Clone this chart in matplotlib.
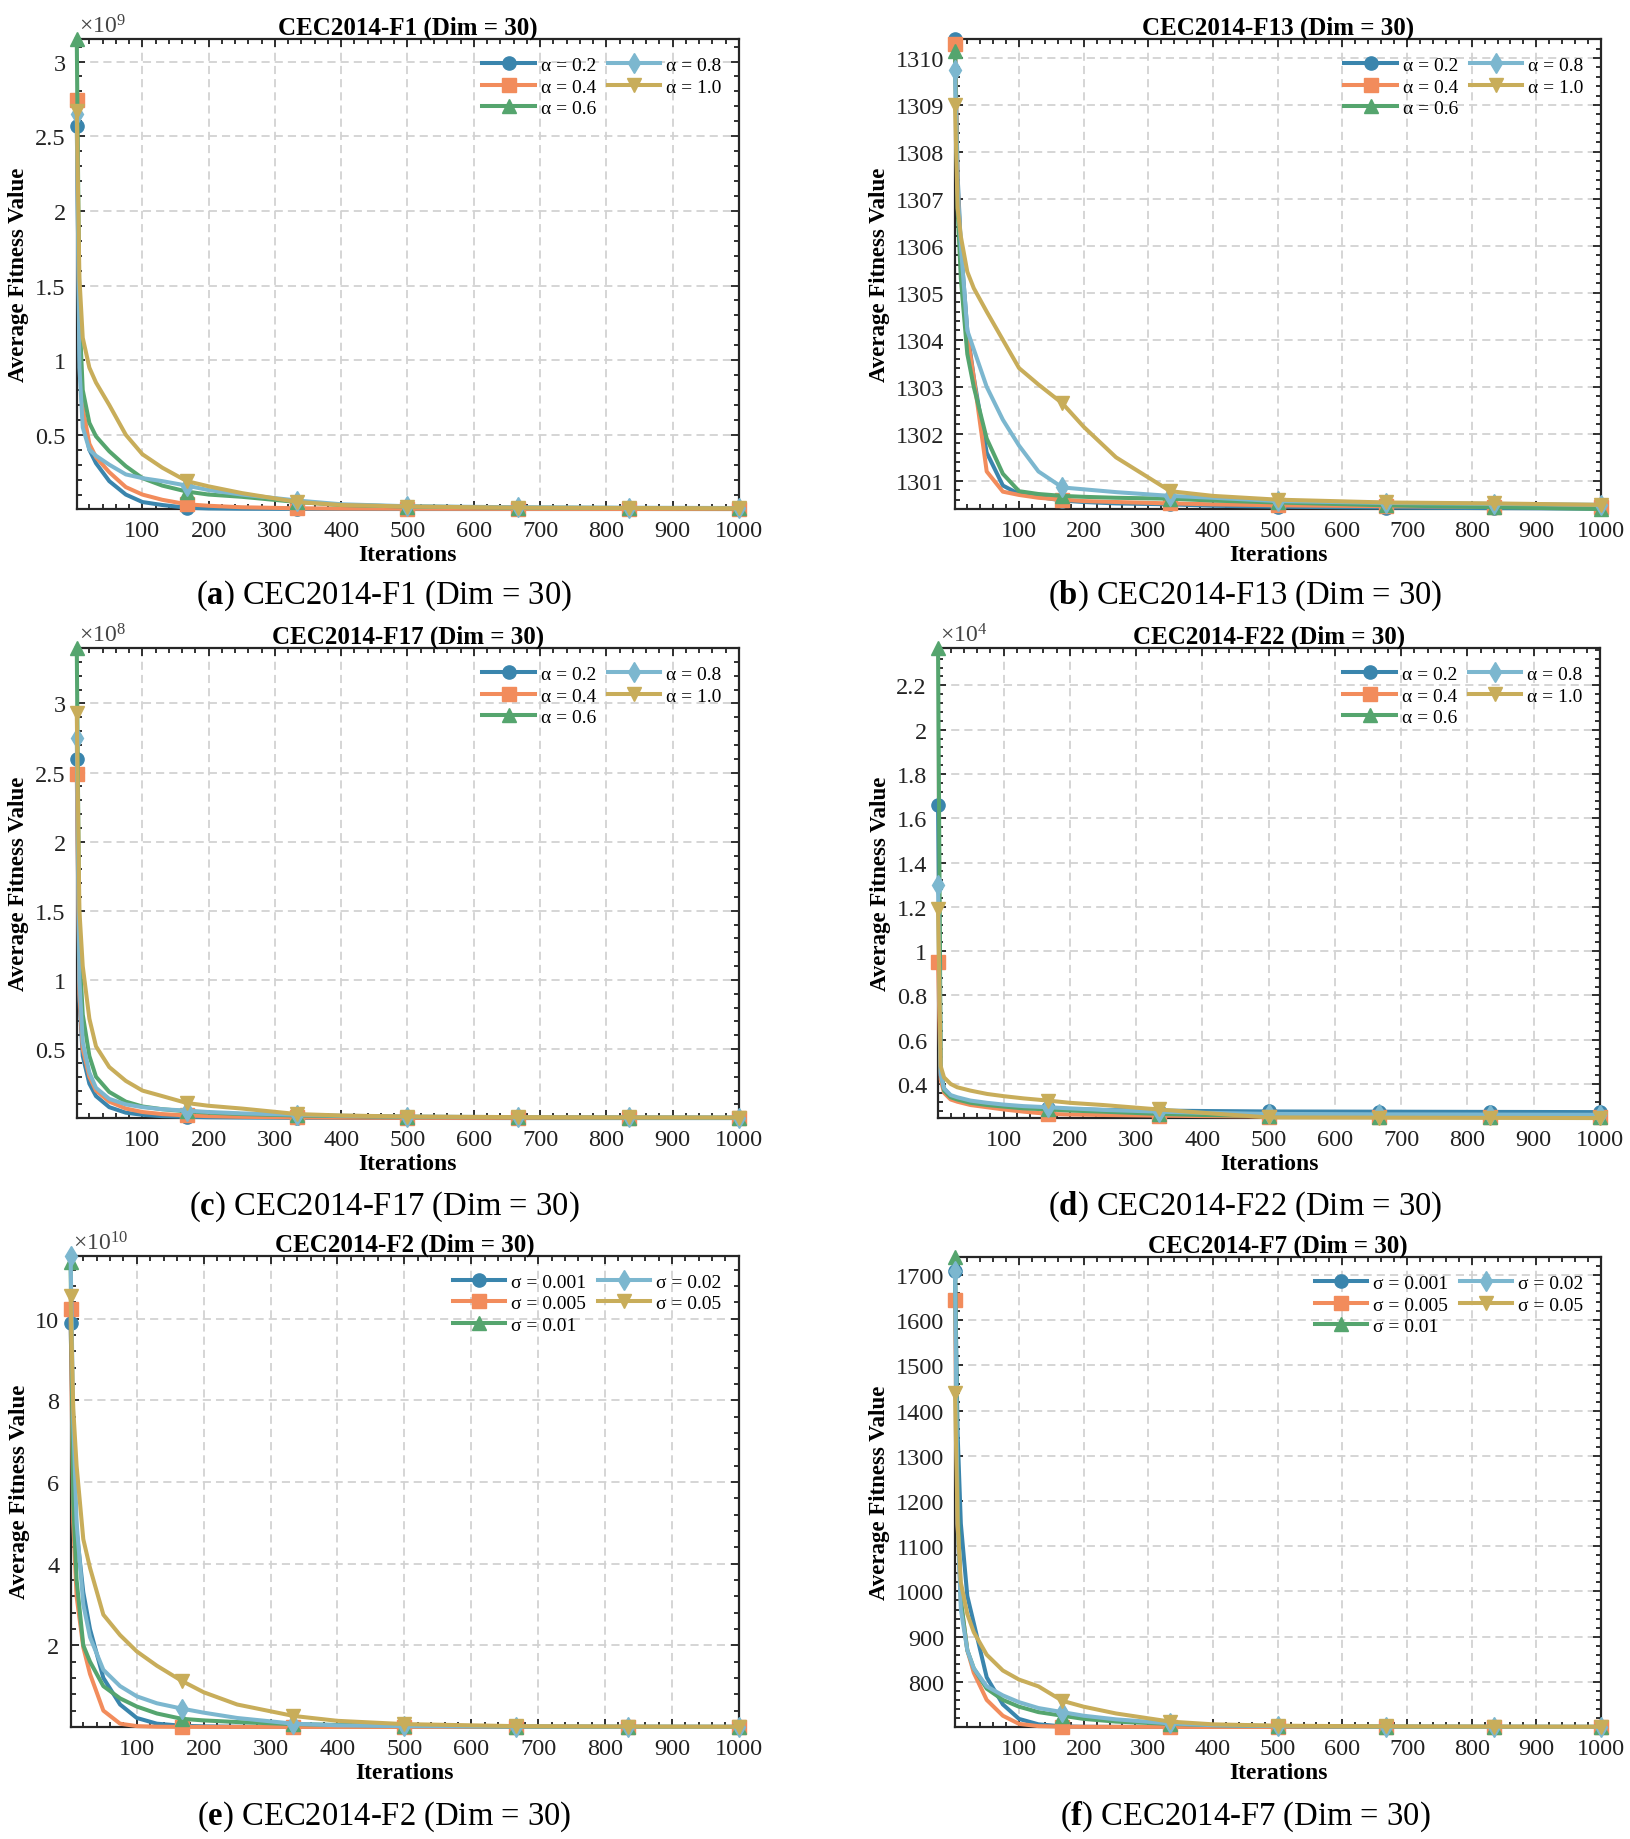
import numpy as np
import matplotlib.pyplot as plt
from matplotlib.ticker import AutoMinorLocator, MultipleLocator, FuncFormatter

plt.rcParams['font.family'] = ['Liberation Serif', 'DejaVu Serif']
plt.rcParams['mathtext.fontset'] = 'custom'
plt.rcParams['mathtext.rm'] = 'Liberation Serif'
plt.rcParams['mathtext.bf'] = 'Liberation Serif:bold'
plt.rcParams['mathtext.it'] = 'Liberation Serif:italic'

iters = [1, 5, 10, 20, 30, 50, 75, 100, 130, 167, 200, 250, 334, 400, 500, 667, 834, 1000]
mark_idx = [0, 9, 12, 14, 15, 16, 17]  # 1, 167, 334, 500, 667, 834, 1000

alpha_labels = ['α = 0.2', 'α = 0.4', 'α = 0.6', 'α = 0.8', 'α = 1.0']
sigma_labels = ['σ = 0.001', 'σ = 0.005', 'σ = 0.01', 'σ = 0.02', 'σ = 0.05']

colores = ['#3a85ad', '#f28c5c', '#55a56e', '#7cb7cf', '#c8ad5a']
marcadores = ['o', 's', '^', 'd', 'v']

# ---- CEC2014-F1 (x1e9) ----
f1_a02 = [2.57, 1.05, 0.62, 0.40, 0.31, 0.19, 0.10, 0.05, 0.03, 0.012, 0.007, 0.005, 0.004, 0.0035, 0.003, 0.003, 0.003, 0.003]
f1_a04 = [2.74, 1.15, 0.68, 0.44, 0.35, 0.25, 0.15, 0.10, 0.065, 0.035, 0.025, 0.015, 0.008, 0.006, 0.005, 0.004, 0.0035, 0.003]
f1_a06 = [3.15, 1.30, 0.80, 0.58, 0.49, 0.39, 0.29, 0.21, 0.16, 0.12, 0.10, 0.085, 0.05, 0.03, 0.02, 0.012, 0.01, 0.008]
f1_a08 = [2.65, 0.95, 0.55, 0.40, 0.36, 0.30, 0.235, 0.21, 0.19, 0.16, 0.13, 0.10, 0.06, 0.035, 0.022, 0.015, 0.012, 0.01]
f1_a10 = [2.67, 1.55, 1.15, 0.95, 0.85, 0.70, 0.50, 0.37, 0.28, 0.19, 0.155, 0.11, 0.05, 0.03, 0.02, 0.012, 0.01, 0.008]

# ---- CEC2014-F13 ----
f13_a02 = [1310.4, 1307.5, 1306.0, 1304.2, 1303.2, 1301.6, 1300.9, 1300.72, 1300.66, 1300.58, 1300.55, 1300.52, 1300.5, 1300.47, 1300.45, 1300.43, 1300.42, 1300.41]
f13_a04 = [1310.3, 1307.3, 1305.8, 1304.1, 1303.2, 1301.2, 1300.77, 1300.7, 1300.64, 1300.6, 1300.57, 1300.55, 1300.52, 1300.5, 1300.48, 1300.46, 1300.45, 1300.44]
f13_a06 = [1310.15, 1306.8, 1305.3, 1303.7, 1303.0, 1301.9, 1301.15, 1300.78, 1300.72, 1300.68, 1300.66, 1300.64, 1300.62, 1300.58, 1300.54, 1300.48, 1300.44, 1300.4]
f13_a08 = [1309.75, 1307.2, 1306.0, 1304.2, 1303.8, 1303.0, 1302.3, 1301.75, 1301.2, 1300.86, 1300.82, 1300.76, 1300.68, 1300.64, 1300.57, 1300.53, 1300.51, 1300.49]
f13_a10 = [1309.0, 1306.8, 1306.2, 1305.45, 1305.1, 1304.6, 1304.0, 1303.4, 1303.05, 1302.65, 1302.15, 1301.5, 1300.78, 1300.68, 1300.6, 1300.54, 1300.52, 1300.49]

# ---- CEC2014-F17 (x1e8) ----
f17_a02 = [2.6, 0.85, 0.45, 0.25, 0.16, 0.08, 0.04, 0.025, 0.015, 0.01, 0.007, 0.005, 0.003, 0.002, 0.002, 0.001, 0.001, 0.001]
f17_a04 = [2.49, 0.9, 0.5, 0.3, 0.2, 0.12, 0.07, 0.045, 0.03, 0.02, 0.015, 0.01, 0.006, 0.004, 0.003, 0.002, 0.002, 0.002]
f17_a06 = [3.40, 1.2, 0.75, 0.45, 0.30, 0.19, 0.12, 0.085, 0.065, 0.05, 0.04, 0.03, 0.02, 0.015, 0.01, 0.007, 0.005, 0.004]
f17_a08 = [2.75, 1.0, 0.55, 0.33, 0.22, 0.14, 0.10, 0.08, 0.065, 0.055, 0.045, 0.035, 0.025, 0.018, 0.012, 0.008, 0.006, 0.005]
f17_a10 = [2.93, 1.5, 1.1, 0.72, 0.52, 0.37, 0.27, 0.2, 0.16, 0.11, 0.09, 0.07, 0.03, 0.02, 0.012, 0.008, 0.006, 0.005]

# ---- CEC2014-F22 (x1e4) ----
f22_a02 = [1.66, 0.45, 0.38, 0.345, 0.335, 0.32, 0.31, 0.30, 0.295, 0.29, 0.287, 0.283, 0.28, 0.278, 0.276, 0.275, 0.274, 0.273]
f22_a04 = [0.951, 0.42, 0.36, 0.33, 0.32, 0.305, 0.295, 0.285, 0.275, 0.265, 0.262, 0.26, 0.257, 0.255, 0.253, 0.252, 0.251, 0.25]
f22_a06 = [2.368, 0.46, 0.37, 0.34, 0.33, 0.315, 0.305, 0.298, 0.29, 0.285, 0.28, 0.275, 0.265, 0.26, 0.256, 0.253, 0.251, 0.25]
f22_a08 = [1.30, 0.44, 0.38, 0.35, 0.34, 0.325, 0.315, 0.307, 0.30, 0.295, 0.29, 0.283, 0.275, 0.27, 0.265, 0.263, 0.262, 0.261]
f22_a10 = [1.19, 0.48, 0.43, 0.40, 0.385, 0.37, 0.355, 0.345, 0.335, 0.325, 0.315, 0.305, 0.285, 0.27, 0.249, 0.248, 0.247, 0.246]

# ---- CEC2014-F2 (x1e10) ----
f2_s001 = [9.9, 6.5, 4.8, 3.3, 2.4, 1.2, 0.55, 0.22, 0.08, 0.03, 0.015, 0.006, 0.002, 0.001, 0.0005, 0.0003, 0.0002, 0.0001]
f2_s005 = [10.25, 5.0, 3.2, 1.95, 1.3, 0.4, 0.08, 0.02, 0.006, 0.002, 0.001, 0.0006, 0.0003, 0.0002, 0.0001, 0.0001, 0.0001, 0.0001]
f2_s01 = [11.4, 5.5, 3.6, 2.0, 1.6, 1.0, 0.7, 0.5, 0.33, 0.2, 0.16, 0.12, 0.07, 0.05, 0.03, 0.01, 0.005, 0.003]
f2_s02 = [11.55, 7.5, 5.0, 3.0, 2.2, 1.4, 1.0, 0.75, 0.58, 0.45, 0.35, 0.22, 0.08, 0.04, 0.02, 0.01, 0.005, 0.003]
f2_s05 = [10.56, 7.8, 6.4, 4.6, 3.9, 2.75, 2.25, 1.85, 1.5, 1.13, 0.85, 0.55, 0.27, 0.15, 0.07, 0.02, 0.01, 0.005]

# ---- CEC2014-F7 ----
f7_s001 = [1710, 1350, 1150, 990, 930, 810, 750, 718, 706, 701.5, 700.6, 700.4, 700.3, 700.2, 700.2, 700.2, 700.2, 700.2]
f7_s005 = [1645, 1150, 980, 870, 820, 760, 725, 707, 702, 700.7, 700.5, 700.4, 700.3, 700.2, 700.2, 700.2, 700.2, 700.2]
f7_s01 = [1740, 1200, 980, 870, 830, 785, 760, 745, 733, 725, 718, 712, 707, 704, 702, 701, 700.6, 700.4]
f7_s02 = [1710, 1150, 960, 870, 830, 790, 770, 755, 742, 733, 725, 717, 708, 704, 702, 701, 700.6, 700.4]
f7_s05 = [1440, 1150, 1020, 950, 910, 860, 825, 805, 790, 758, 745, 730, 712, 706, 703, 701.5, 701, 700.6]

paneles = [
    # rect, titulo, leyenda, series, escala (exponente), paso y, letra, pos. caption
    ([0.0471, 0.7228, 0.4062, 0.2554], 'CEC2014-F1', alpha_labels,
     [f1_a02, f1_a04, f1_a06, f1_a08, f1_a10], 9, 0.5, 'a', (0.2356, 0.676)),
    ([0.5859, 0.7228, 0.3963, 0.2554], 'CEC2014-F13', alpha_labels,
     [f13_a02, f13_a04, f13_a06, f13_a08, f13_a10], 0, 1, 'b', (0.764, 0.676)),
    ([0.0471, 0.3918, 0.4062, 0.2554], 'CEC2014-F17', alpha_labels,
     [f17_a02, f17_a04, f17_a06, f17_a08, f17_a10], 8, 0.5, 'c', (0.2356, 0.344)),
    ([0.5755, 0.3918, 0.4061, 0.2554], 'CEC2014-F22', alpha_labels,
     [f22_a02, f22_a04, f22_a06, f22_a08, f22_a10], 4, 0.2, 'd', (0.764, 0.344)),
    ([0.0433, 0.0609, 0.4100, 0.2562], 'CEC2014-F2', sigma_labels,
     [f2_s001, f2_s005, f2_s01, f2_s02, f2_s05], 10, 2, 'e', (0.2356, 0.0125)),
    ([0.5859, 0.0609, 0.3963, 0.2554], 'CEC2014-F7', sigma_labels,
     [f7_s001, f7_s005, f7_s01, f7_s02, f7_s05], 0, 100, 'f', (0.764, 0.0125)),
]

fig = plt.figure(figsize=(16.3, 18.4), dpi=100)

for rect, titulo, etiquetas, series, expo, paso, letra, cap in paneles:
    ax = fig.add_axes(rect)
    escala = 10.0 ** expo
    todos = []
    for k, serie in enumerate(series):
        valores = np.array(serie) * escala
        todos.extend(valores)
        ax.plot(iters, valores, color=colores[k], lw=2.9, marker=marcadores[k],
                markevery=mark_idx, ms=9.5 if marcadores[k] != 'd' else 10,
                label=etiquetas[k], clip_on=False, zorder=3 + k)

    ax.set_xlim(1, 1000)
    ax.set_ylim(min(todos), max(todos))
    ax.xaxis.set_major_locator(MultipleLocator(100))
    ax.xaxis.set_major_formatter(FuncFormatter(lambda v, p: f'{v:g}' if v >= 100 else ''))
    ax.xaxis.set_minor_locator(AutoMinorLocator(5))
    ax.yaxis.set_major_locator(MultipleLocator(paso * escala))
    ax.yaxis.set_major_formatter(FuncFormatter(lambda v, p, e=escala: f'{v / e:g}'))
    ax.yaxis.set_minor_locator(AutoMinorLocator(5))

    ax.tick_params(which='both', direction='in', top=True, right=True,
                   labelsize=17.5, width=1.3, colors='#222222')
    ax.tick_params(which='major', length=6, pad=8)
    ax.tick_params(which='minor', length=3.5)
    for sp in ax.spines.values():
        sp.set_linewidth(1.6)
        sp.set_color('#262626')

    ax.grid(True, which='major', color='#d2d2d2', lw=1.3, linestyle=(0, (4.5, 2.8)))
    ax.set_axisbelow(True)

    ax.set_title(f'{titulo} (Dim = 30)', fontsize=18, fontweight='bold', pad=3)
    ax.set_xlabel('Iterations', fontsize=17, fontweight='bold', labelpad=2)
    ax.set_ylabel('Average Fitness Value', fontsize=16.5, fontweight='bold', labelpad=4)

    if expo:
        ax.text(0.003, 1.003, r'$\times10^{%d}$' % expo, transform=ax.transAxes,
                fontsize=17, color='#444444', ha='left', va='bottom')

    ax.legend(loc='upper right', ncol=2, frameon=False, fontsize=14,
              handlelength=2.7, handletextpad=0.3, columnspacing=0.6,
              labelspacing=0.2, borderaxespad=0.5)

    fig.text(cap[0], cap[1], r'($\mathbf{%s}$) %s (Dim = 30)' % (letra, titulo),
             fontsize=23.5, ha='center', va='center')

fig.savefig('out.png', dpi=100)
